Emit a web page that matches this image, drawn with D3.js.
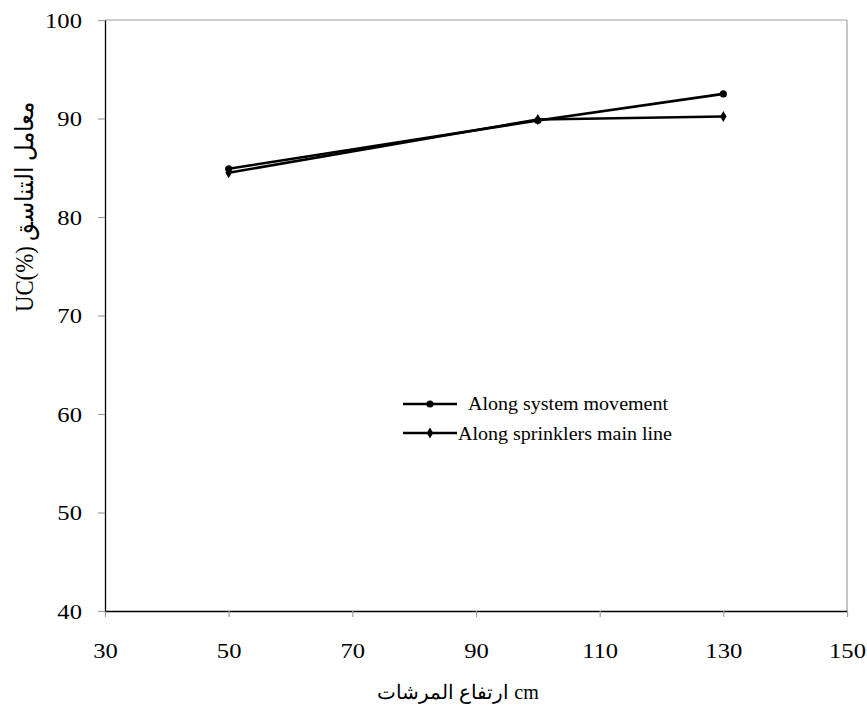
<!DOCTYPE html>
<html>
<head>
<meta charset="utf-8">
<script src="https://cdn.jsdelivr.net/npm/d3@7"></script>
<style>
  html, body { margin: 0; padding: 0; background: #fff; }
  svg { display: block; }
  text { font-family: "Liberation Serif", "Times New Roman", "DejaVu Serif", serif; fill: #000; }
</style>
</head>
<body>
<svg id="chart" width="867" height="720"></svg>
<script>
const heights = [50, 100, 130];
const seriesNames = ["Along system movement", "Along sprinklers main line"];
const systemMovement = [84.9, 89.8, 92.5];
const sprinklersMainLine = [84.5, 89.9, 90.2];
const xTicks = [30, 50, 70, 90, 110, 130, 150];
const yTicks = [40, 50, 60, 70, 80, 90, 100];
const xTitle = "ارتفاع المرشات cm";
const yTitle = "UC(%) معامل التناسق";

const svg = d3.select("#chart");
const pLeft = 105, pRight = 847, pTop = 20, pBottom = 611;

const x = d3.scaleLinear().domain([30, 150]).range([pLeft, pRight]);
const y = d3.scaleLinear().domain([40, 100]).range([pBottom, pTop]);

// frame: top/right gray
svg.append("line").attr("x1", pLeft).attr("x2", pRight).attr("y1", pTop).attr("y2", pTop)
  .attr("stroke", "#a0a0a0").attr("stroke-width", 1.2);
svg.append("line").attr("x1", pRight).attr("x2", pRight).attr("y1", pTop).attr("y2", pBottom)
  .attr("stroke", "#a0a0a0").attr("stroke-width", 1.2);

// axes
const xAxis = svg.append("g").attr("transform", `translate(0,${pBottom})`)
  .call(d3.axisBottom(x).tickValues(xTicks).tickSize(6).tickSizeOuter(0).tickFormat(d3.format("d")));
const yAxis = svg.append("g").attr("transform", `translate(${pLeft},0)`)
  .call(d3.axisLeft(y).tickValues(yTicks).tickSize(7).tickSizeOuter(0).tickFormat(d3.format("d")));

[xAxis, yAxis].forEach(g => {
  g.select(".domain").attr("stroke", "#000").attr("stroke-width", 1.3);
  g.selectAll(".tick line").attr("stroke", "#a0a0a0").attr("stroke-width", 1.2);
  g.selectAll(".tick text").attr("font-size", 22)
    .attr("font-family", '"Liberation Serif", "Times New Roman", serif').attr("fill", "#000");
});
xAxis.selectAll(".tick text").attr("x", 0).attr("y", 0).attr("dy", 0)
  .attr("transform", "translate(0,47) scale(1.12,1)");
yAxis.selectAll(".tick text").attr("x", 0).attr("dy", "0.34em")
  .attr("transform", "translate(-23,0) scale(1.12,1)");

// axis titles
svg.append("text").attr("x", 458).attr("y", 699).attr("text-anchor", "middle")
  .attr("font-size", 20).attr("direction", "ltr").text(xTitle);
svg.append("text").attr("transform", "translate(33,207) rotate(-90)")
  .attr("text-anchor", "middle").attr("font-size", 25).attr("direction", "ltr")
  .attr("textLength", 210).attr("lengthAdjust", "spacingAndGlyphs").text(yTitle);

// data lines
const line = d3.line().x((d, i) => x(heights[i])).y(d => y(d));
const series = [systemMovement, sprinklersMainLine];

series.forEach(vals => {
  svg.append("path").datum(vals).attr("d", line)
    .attr("fill", "none").attr("stroke", "#000").attr("stroke-width", 2.6)
    .attr("stroke-linejoin", "round");
});

const circleSym = d3.symbol().type(d3.symbolCircle).size(40);
const diamondSym = d3.symbol().type(d3.symbolDiamond).size(36);

svg.selectAll(".m1").data(systemMovement).enter().append("path")
  .attr("d", circleSym).attr("fill", "#000")
  .attr("transform", (d, i) => `translate(${x(heights[i])},${y(d)})`);
svg.selectAll(".m2").data(sprinklersMainLine).enter().append("path")
  .attr("d", diamondSym).attr("fill", "#000")
  .attr("transform", (d, i) => `translate(${x(heights[i])},${y(d)})`);

// legend
const legendRows = [
  { name: seriesNames[0], sym: circleSym, ly: 404, tx: 468, ty: 410, w: 200 },
  { name: seriesNames[1], sym: diamondSym, ly: 433, tx: 458, ty: 440, w: 214 }
];
legendRows.forEach(r => {
  svg.append("line").attr("x1", 403).attr("x2", 457).attr("y1", r.ly).attr("y2", r.ly)
    .attr("stroke", "#000").attr("stroke-width", 2.6);
  svg.append("path").attr("d", r.sym).attr("fill", "#000")
    .attr("transform", `translate(430,${r.ly})`);
  svg.append("text").attr("x", r.tx).attr("y", r.ty).attr("font-size", 19)
    .attr("textLength", r.w).attr("lengthAdjust", "spacingAndGlyphs").text(r.name);
});
</script>
</body>
</html>
